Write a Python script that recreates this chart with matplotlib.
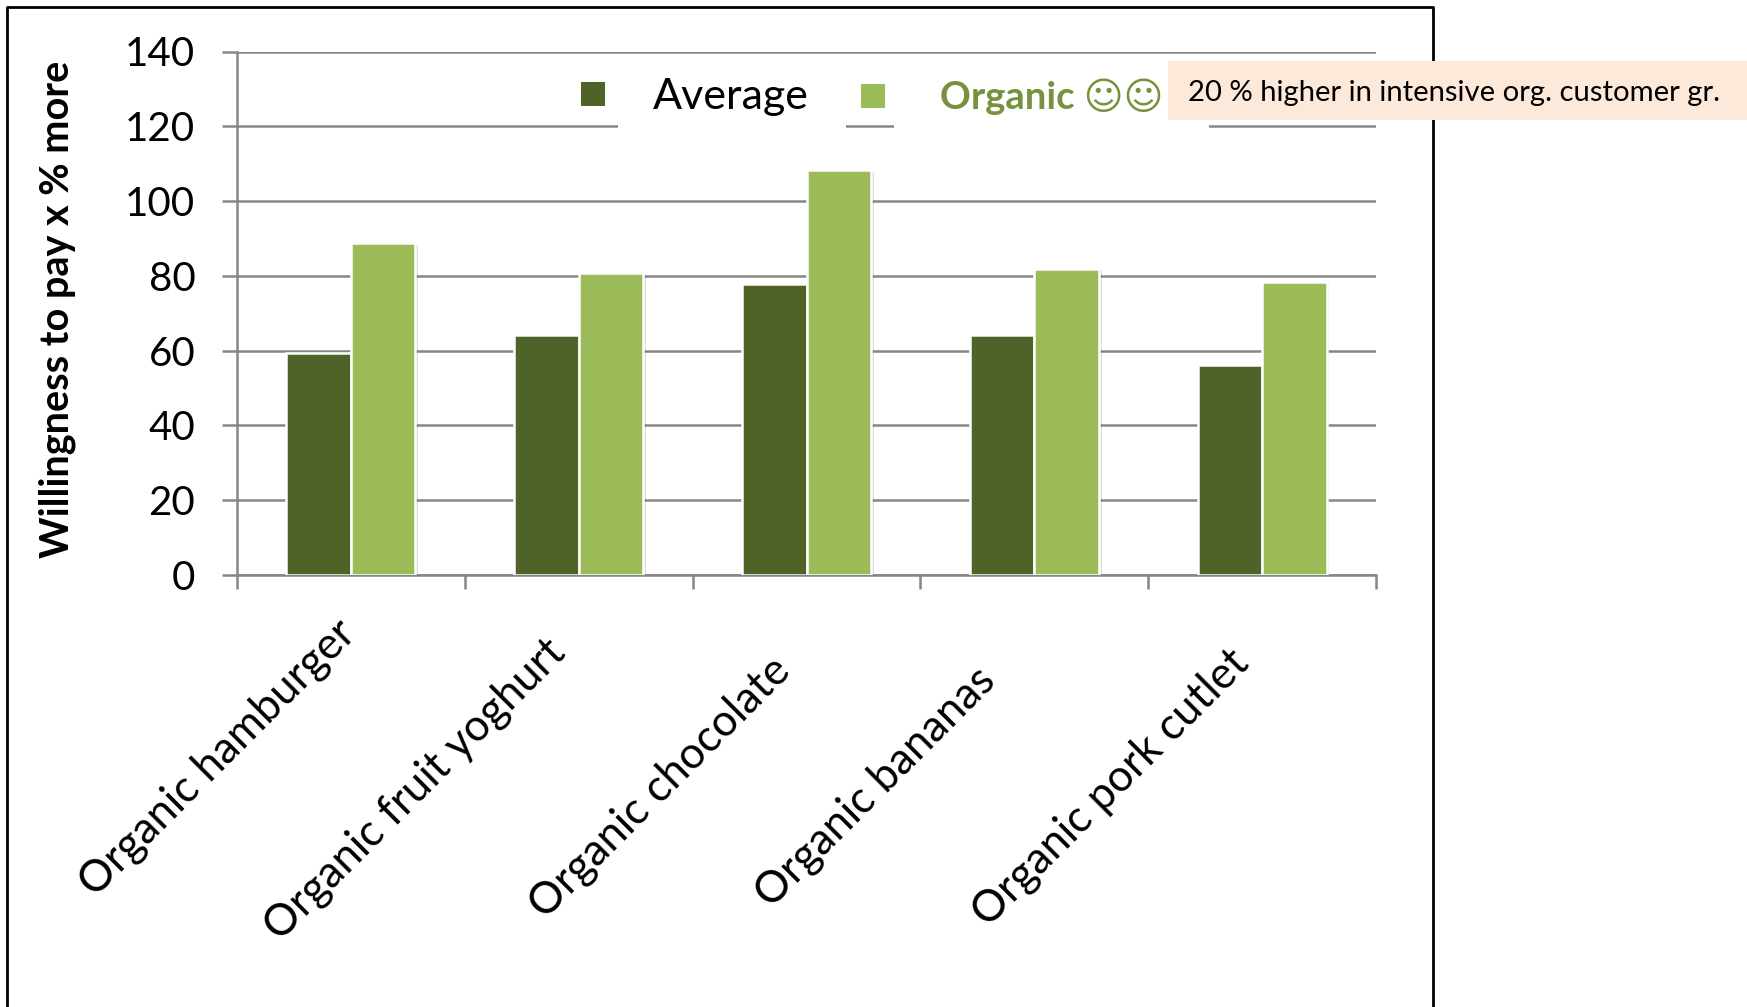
import matplotlib
matplotlib.use("Agg")
import matplotlib.pyplot as plt
import matplotlib.patheffects as pe
from matplotlib.font_manager import FontProperties
from matplotlib.lines import Line2D
from matplotlib.patches import Rectangle
from matplotlib.transforms import ScaledTranslation
import numpy as np

products = ["Organic hamburger", "Organic fruit yoghurt", "Organic chocolate",
            "Organic bananas", "Organic pork cutlet"]
average = [59.5, 64.1, 77.8, 64.1, 56.1]
organic = [88.7, 80.7, 108.2, 81.9, 78.4]
yticks = [0, 20, 40, 60, 80, 100, 120, 140]

DARK = "#4F6228"
LIGHT = "#9BBB59"
GREY = "#868686"
W, H = 1747, 1007

plt.rcParams["font.family"] = ["Lato", "DejaVu Sans"]

def fx(px):
    return px / W

def fy(px):
    return 1 - px / H

fig = plt.figure(figsize=(W / 100, H / 100), dpi=100)
ax = fig.add_axes([fx(237), fy(575), fx(1376 - 237), (575 - 51.5) / H])

x = np.arange(len(products))
bw = 0.283
shadow = [pe.SimplePatchShadow(offset=(2, -1), alpha=0.2, shadow_rgbFace="#555555"), pe.Normal()]
ax.bar(x - bw / 2, average, bw, color=DARK, edgecolor="white", linewidth=1.8,
       zorder=3, path_effects=shadow)
ax.bar(x + bw / 2, organic, bw, color=LIGHT, edgecolor="white", linewidth=1.8,
       zorder=3, path_effects=shadow)

ax.set_xlim(-0.5, len(products) - 0.5)
ax.set_ylim(0, 140)
ax.set_yticks(yticks)
ax.set_xticks(x)
ax.set_xticklabels(products, rotation=45, ha="right", va="top", rotation_mode="anchor")
ax.set_xticks(np.arange(len(products) + 1) - 0.5, minor=True)
ax.grid(axis="y", color=GREY, linewidth=1.8, zorder=1)
ax.set_axisbelow(True)

ax.tick_params(axis="y", length=11, width=1.8, color=GREY, labelsize=29, pad=19)
ax.tick_params(axis="x", which="major", length=0, labelsize=31.5, pad=38)
ax.tick_params(axis="x", which="minor", length=10, width=1.8, color=GREY)
for s in ["top", "right"]:
    ax.spines[s].set_visible(False)
for s in ["left", "bottom"]:
    ax.spines[s].set_color(GREY)
    ax.spines[s].set_linewidth(1.8)

# the category labels do not sit evenly under their groups in the original
label_dx = [-16, -34, -37, -60, -34]
label_dy = [15, -4, -22, -32, -14]
for lab, dx, dy in zip(ax.get_xticklabels(), label_dx, label_dy):
    lab.set_transform(lab.get_transform() + ScaledTranslation(dx / 100, dy / 100, fig.dpi_scale_trans))

fig.text(fx(57), fy(309), "Willingness to pay x % more", rotation=90, fontsize=28.5,
         fontweight="bold", ha="center", va="center")

# white patches behind the legend texts break the 120 gridline
for left, right in [(618, 846), (894, 1209)]:
    ax.add_patch(Rectangle((fx(left), fy(130)), fx(right - left), 62 / H, facecolor="white",
                           edgecolor="none", transform=fig.transFigure, zorder=2, clip_on=False))

def one_legend(color, label, left, text_color, weight, size, textpad):
    h = Line2D([], [], linestyle="none", marker="s", markersize=17.5, color=color,
               markeredgewidth=0)
    font = FontProperties(family=["Lato", "DejaVu Sans"], size=size, weight=weight)
    leg = ax.legend([h], [label], loc="center left", bbox_to_anchor=(fx(left), fy(97)),
                    bbox_transform=fig.transFigure, frameon=False, prop=font, borderpad=0.45,
                    borderaxespad=0, handlelength=1.0, handletextpad=textpad)
    leg.get_texts()[0].set_color(text_color)
    leg.set_zorder(4)
    return leg

ax.add_artist(one_legend(DARK, "Average", 552, "black", "normal", 31, 0.9))
one_legend(LIGHT, "Organic \u263a\u263a", 837, "#76923C", "bold", 27.5, 1.25)

# page frame, open at the bottom
fig.add_artist(Line2D([fx(7), fx(7), fx(1433), fx(1433)], [0, fy(7), fy(7), 0],
                      color="black", linewidth=2, transform=fig.transFigure, zorder=5))

fig.add_artist(Rectangle((fx(1168), fy(120)), fx(W - 1168), 59 / H, facecolor="#FDE9D9",
                         edgecolor="none", transform=fig.transFigure, zorder=6))
fig.text(fx(1188), fy(93), "20 % higher in intensive org. customer gr.", fontsize=21.1,
         va="center", ha="left", zorder=7)

fig.savefig("out.png", dpi=100)
